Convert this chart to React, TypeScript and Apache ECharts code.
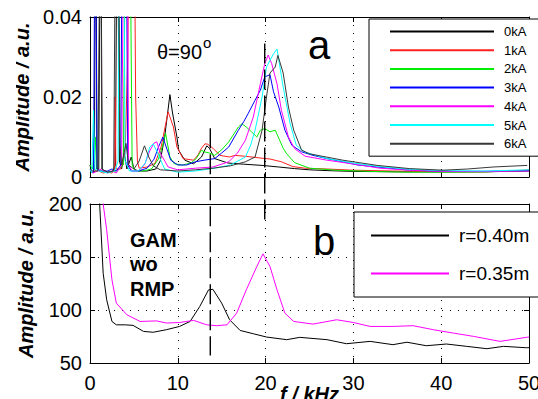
import React, { useEffect, useRef } from 'react';
import * as echarts from 'echarts';

// ---------- data ----------
const xTicks = [0, 10, 20, 30, 40, 50];
const topYTicks = [0, 0.02, 0.04];
const bottomYTicks = [50, 100, 150, 200];

const topNames = ['0kA', '1kA', '2kA', '3kA', '4kA', '5kA', '6kA'];
const bottomNames = ['r=0.40m', 'r=0.35m'];

const kA0: [number, number][] = [
  [0, 0.003], [0.2, 0.001], [0.5, 0.002], [0.65, 0.08], [0.8, 0.002], [1.0, 0.002], [1.2, 0.08], [1.4, 0.002],
  [1.8, 0.0012], [2.2, 0.0012], [2.6, 0.0015], [2.9, 0.003], [3.1, 0.08], [3.35, 0.004], [3.6, 0.002], [3.9, 0.006],
  [4.2, 0.002], [4.7, 0.005], [5.0, 0.002], [5.5, 0.0015], [6.5, 0.0015], [7.5, 0.002], [8.0, 0.004], [8.5, 0.010],
  [8.9, 0.017], [9.1, 0.0206], [9.4, 0.016], [9.9, 0.010], [10.1, 0.0067], [10.8, 0.0042], [11.8, 0.0033], [12.7, 0.005],
  [13.3, 0.0078], [13.6, 0.0072], [14.2, 0.0046], [15.7, 0.0035], [17.5, 0.0032], [19.6, 0.0029], [21.5, 0.0025],
  [23.3, 0.0021], [25, 0.0018], [27, 0.0016], [30, 0.0014], [35, 0.0013], [40, 0.0013], [45, 0.0013], [50, 0.0015],
];
const kA1: [number, number][] = [
  [0, 0.002], [0.3, 0.001], [0.6, 0.0015], [1.0, 0.0015], [1.5, 0.001], [2.0, 0.0012], [2.5, 0.001], [2.8, 0.002],
  [2.85, 0.02], [2.95, 0.002], [3.5, 0.002], [4.0, 0.006], [4.3, 0.03], [4.5, 0.08], [5.0, 0.08], [5.2, 0.02],
  [5.4, 0.004], [5.6, 0.0022], [6.5, 0.0025], [7.4, 0.0034], [8.1, 0.0075], [8.6, 0.013], [8.9, 0.0163], [9.5, 0.0125],
  [9.9, 0.0075], [10.6, 0.0046], [11.8, 0.0042], [12.3, 0.0055], [12.7, 0.0072], [13.1, 0.0083], [13.4, 0.0082],
  [14.0, 0.0072], [14.8, 0.0054], [15.9, 0.005], [16.5, 0.0054], [17.6, 0.0052], [19.6, 0.0047], [20.5, 0.0045],
  [21.8, 0.0038], [23.1, 0.0026], [24.5, 0.0022], [27, 0.002], [30, 0.0017], [34.5, 0.0015], [40, 0.0013],
  [45, 0.0013], [48, 0.0015], [50, 0.0018],
];
const kA2: [number, number][] = [
  [0, 0.003], [0.3, 0.002], [0.6, 0.010], [0.75, 0.002], [1.2, 0.0015], [2.0, 0.0012], [3.0, 0.0015], [3.8, 0.003],
  [4.1, 0.08], [4.5, 0.08], [4.8, 0.003], [5.2, 0.0015], [6.0, 0.0015], [7.0, 0.002], [7.8, 0.0045], [8.3, 0.008],
  [8.6, 0.011], [9.1, 0.005], [9.6, 0.0033], [10.5, 0.003], [11.5, 0.0035], [12.1, 0.0046], [12.7, 0.0067],
  [13.0, 0.0063], [13.6, 0.006], [14.2, 0.0054], [15.0, 0.0068], [15.8, 0.0088], [16.4, 0.0108], [16.9, 0.0125],
  [17.3, 0.0133], [17.8, 0.0125], [18.4, 0.0113], [19.0, 0.010], [19.4, 0.0117], [19.9, 0.0121], [20.5, 0.0113],
  [21.1, 0.0117], [21.6, 0.0092], [22.0, 0.0072], [22.4, 0.0058], [23.3, 0.0036], [25, 0.0022], [28, 0.0017],
  [32, 0.0014], [36, 0.0012], [40, 0.0012], [45, 0.0013], [50, 0.0016],
];
const kA3: [number, number][] = [
  [0, 0.002], [0.4, 0.001], [0.6, 0.08], [0.8, 0.002], [1.2, 0.0015], [2.0, 0.0015], [2.5, 0.002], [3.0, 0.0015],
  [3.5, 0.003], [3.7, 0.08], [4.1, 0.08], [4.3, 0.003], [4.7, 0.0015], [5.5, 0.0015], [6.5, 0.0022], [7.3, 0.0045],
  [7.8, 0.0075], [8.3, 0.010], [8.6, 0.008], [9.2, 0.0042], [10, 0.003], [11, 0.003], [12, 0.0038], [13, 0.0042],
  [14.2, 0.0046], [15.0, 0.006], [15.8, 0.0075], [16.9, 0.0117], [17.5, 0.0138], [18, 0.0158], [18.8, 0.0192],
  [19.4, 0.0217], [19.9, 0.025], [20.5, 0.0256], [20.9, 0.0213], [21.5, 0.0175], [22.2, 0.0117], [23, 0.0079],
  [24.1, 0.0063], [25.4, 0.0054], [27, 0.0046], [28.8, 0.0038], [30.5, 0.003], [32.7, 0.0025], [36, 0.0018],
  [40, 0.0014], [45, 0.0014], [50, 0.0016],
];
const kA4: [number, number][] = [
  [0, 0.002], [0.4, 0.001], [0.8, 0.0015], [1.3, 0.002], [2.0, 0.001], [2.5, 0.0015], [3.0, 0.001], [3.6, 0.003],
  [3.9, 0.08], [4.2, 0.08], [4.4, 0.003], [4.8, 0.0015], [5.5, 0.0015], [6.2, 0.003], [6.8, 0.0065], [7.3, 0.0085],
  [7.6, 0.0088], [8.0, 0.006], [8.9, 0.0025], [10, 0.0018], [12, 0.0022], [14, 0.0025], [15.8, 0.0038], [16.8, 0.006],
  [17.7, 0.0092], [18.6, 0.015], [19.4, 0.0233], [19.9, 0.0283], [20.3, 0.0305], [20.7, 0.0283], [21.3, 0.0233],
  [21.8, 0.0167], [22.6, 0.010], [23.3, 0.0071], [24.5, 0.0052], [27, 0.0042], [30.8, 0.003], [33, 0.0022],
  [36.4, 0.0017], [40, 0.0014], [45, 0.0014], [50, 0.0015],
];
const kA5: [number, number][] = [
  [0, 0.002], [0.2, 0.001], [0.4, 0.0167], [0.55, 0.002], [1.0, 0.0015], [2.0, 0.001], [2.8, 0.0015], [3.2, 0.004],
  [3.4, 0.08], [3.8, 0.08], [4.0, 0.004], [4.5, 0.0015], [5.5, 0.0015], [6.3, 0.0035], [6.8, 0.0075], [7.2, 0.0083],
  [7.7, 0.006], [8.5, 0.002], [10, 0.0012], [12, 0.0015], [14.2, 0.0022], [16, 0.003], [17.7, 0.005], [18.3, 0.008],
  [18.8, 0.0117], [19.6, 0.020], [20.1, 0.0275], [20.9, 0.0308], [21.3, 0.032], [22, 0.0225], [22.8, 0.0133],
  [23.5, 0.0079], [24.5, 0.0062], [27, 0.0046], [30, 0.0035], [33, 0.0026], [36, 0.002], [40, 0.0016], [45, 0.0015],
  [50, 0.0018],
];
const kA6: [number, number][] = [
  [0, 0.002], [0.3, 0.0015], [0.9, 0.0015], [1.2, 0.08], [1.35, 0.002], [2.0, 0.0012], [2.7, 0.0015], [2.95, 0.08],
  [3.25, 0.08], [3.4, 0.008], [3.6, 0.003], [4.1, 0.0084], [4.4, 0.003], [5.0, 0.002], [5.6, 0.004], [6.2, 0.0078],
  [6.7, 0.005], [7.2, 0.0028], [8, 0.0018], [10, 0.0015], [12, 0.0018], [14, 0.0022], [16, 0.0028], [17.7, 0.0038],
  [18.8, 0.005], [19.6, 0.0117], [20.1, 0.020], [20.5, 0.026], [21.1, 0.0275], [21.4, 0.0304], [22, 0.026],
  [22.6, 0.0175], [23.2, 0.0117], [24.1, 0.0067], [25, 0.0058], [28.8, 0.0042], [32.7, 0.0029], [36.4, 0.0021],
  [40.2, 0.0017], [43, 0.002], [45.9, 0.0025], [49.8, 0.0029],
];

const r040: [number, number][] = [
  [0.9, 260], [1.1, 200], [1.5, 134.7], [1.9, 109.6], [2.5, 89.2], [3.0, 86], [4.0, 86], [4.9, 85.5], [6.1, 79.8],
  [7.2, 79], [8.7, 81.4], [10.2, 84.5], [11.4, 89.2], [12.5, 103.3], [13.5, 119], [14.0, 119.5], [15.0, 106.5],
  [15.9, 90.8], [17.1, 80.7], [18.6, 77.6], [20.1, 74.5], [22.4, 72], [23.9, 74.2], [27, 72], [29.2, 68.2],
  [31.9, 70.4], [34.5, 67.3], [36.1, 69.6], [38.3, 66.3], [40.6, 67.9], [42.9, 65.7], [45.2, 63.5], [47.1, 65.7],
  [49.7, 64.4], [50, 64.5],
];
const r035: [number, number][] = [
  [1.3, 260], [1.5, 200], [1.9, 175.6], [2.5, 128.5], [3.0, 106.5], [4.2, 95.5], [5.7, 89.2], [7.6, 89.7],
  [8.7, 87.7], [10.2, 88.2], [11.8, 90.2], [13.3, 86], [14.4, 85.2], [15.6, 86], [16.7, 97], [17.8, 119], [19.0, 141],
  [19.7, 153], [20.5, 141], [21.3, 119], [22.2, 97], [23.2, 89.2], [25.4, 86.7], [28.1, 90.8], [30, 88.2],
  [31.9, 84.5], [34.5, 84.5], [36.8, 85.2], [39.1, 81.4], [41.4, 78.2], [43.7, 75.1], [46.7, 70.4], [49.7, 74.2],
  [50, 74.5],
];

// annotation (dashed) lines: frequency, start value in panel a, end value in panel b
const dashedFreqs = [13.7, 19.9];
const dashedTopAmp = [0.0122, 0.0334];
const dashedBottomAmp = [57, 180];

const topData = [kA0, kA1, kA2, kA3, kA4, kA5, kA6];
const bottomData = [r040, r035];

// ---------- styles ----------
const topColors = ['#000000', '#ff2020', '#00ee00', '#0000ff', '#ff00ff', '#00ffff', '#383838'];
const bottomColors = ['#000000', '#ff00ff'];
const FONT = 'Liberation Sans, Arial, Helvetica, sans-serif';

function axisPair(gridIndex: number, showLabels: boolean, min: number, max: number, interval: number, isX: boolean) {
  const base = {
    gridIndex,
    type: 'value',
    min,
    max,
    interval,
    axisLine: { show: true, onZero: false, lineStyle: { color: '#000', width: 1 } },
    axisTick: { show: true, inside: true, length: 5, lineStyle: { color: '#000', width: 1 } },
  };
  const main: any = {
    ...base,
    position: isX ? 'bottom' : 'left',
    axisLabel: { show: showLabels, color: '#000', fontSize: 20, fontFamily: FONT, margin: isX ? 10 : 8 },
    splitLine: { show: true, lineStyle: { color: '#000', width: 1, type: [1, 7] } },
  };
  const mirror: any = {
    ...base,
    position: isX ? 'top' : 'right',
    axisLabel: { show: false },
    splitLine: { show: false },
  };
  return [main, mirror];
}

export default function App() {
  const ref = useRef<HTMLDivElement>(null);
  useEffect(() => {
    document.body.style.margin = '0';
    if (!ref.current) return;
    const chart = echarts.init(ref.current, undefined, { renderer: 'svg' });

    const [xa0, xa1] = axisPair(0, false, xTicks[0], xTicks[xTicks.length - 1], xTicks[1] - xTicks[0], true);
    const [xb0, xb1] = axisPair(1, true, xTicks[0], xTicks[xTicks.length - 1], xTicks[1] - xTicks[0], true);
    const [ya0, ya1] = axisPair(0, true, topYTicks[0], topYTicks[topYTicks.length - 1], topYTicks[1] - topYTicks[0], false);
    const [yb0, yb1] = axisPair(1, true, bottomYTicks[0], bottomYTicks[bottomYTicks.length - 1], bottomYTicks[1] - bottomYTicks[0], false);

    const nameStyle = { fontSize: 20, fontWeight: 'bold', fontStyle: 'italic', color: '#000', fontFamily: FONT };
    xb0.name = 'f / kHz';
    xb0.nameLocation = 'middle';
    xb0.nameGap = 21;
    xb0.nameMoveOverlap = false;
    xb0.nameTextStyle = nameStyle;
    ya0.name = 'Amplitude / a.u.';
    ya0.nameLocation = 'middle';
    ya0.nameGap = 58;
    ya0.nameMoveOverlap = false;
    ya0.nameTextStyle = nameStyle;
    yb0.name = 'Amplitude / a.u.';
    yb0.nameLocation = 'middle';
    yb0.nameGap = 54;
    yb0.nameMoveOverlap = false;
    yb0.nameTextStyle = nameStyle;

    const series: any[] = [];
    topData.forEach((d, i) => {
      series.push({
        name: topNames[i], type: 'line', data: d, xAxisIndex: 0, yAxisIndex: 0, symbol: 'none',
        lineStyle: { color: topColors[i], width: 1 }, itemStyle: { color: topColors[i] }, clip: true,
      });
    });
    bottomData.forEach((d, i) => {
      series.push({
        name: bottomNames[i], type: 'line', data: d, xAxisIndex: 2, yAxisIndex: 2, symbol: 'none',
        lineStyle: { color: bottomColors[i], width: 1 }, itemStyle: { color: bottomColors[i] }, clip: true,
      });
    });

    const option: any = {
      animation: false,
      backgroundColor: '#fff',
      textStyle: { fontFamily: FONT },
      grid: [
        { left: 90, top: 17, width: 439, height: 160, outerBoundsMode: 'none', containLabel: false },
        { left: 90, top: 204, width: 439, height: 159, outerBoundsMode: 'none', containLabel: false },
      ],
      xAxis: [xa0, xa1, xb0, xb1],
      yAxis: [ya0, ya1, yb0, yb1],
      legend: [
        {
          data: topNames, orient: 'vertical', left: 369, top: 19, itemWidth: 104, itemHeight: 14, itemGap: 5.7,
          padding: [6, 50, 6, 20], borderColor: '#000', borderWidth: 1, backgroundColor: '#fff', selectedMode: false,
          itemStyle: { opacity: 0 },
          textStyle: { fontSize: 13, color: '#000', fontFamily: FONT, padding: [0, 0, 0, 5] },
        },
        {
          data: bottomNames, orient: 'vertical', left: 354, top: 212, itemWidth: 78, itemHeight: 14, itemGap: 19,
          padding: [14, 60, 14, 16], borderColor: '#000', borderWidth: 1, backgroundColor: '#fff', selectedMode: false,
          itemStyle: { opacity: 0 },
          textStyle: { fontSize: 19, color: '#000', fontFamily: FONT, padding: [0, 0, 0, 5] },
        },
      ],
      series,
    };
    chart.setOption(option);

    const lines = dashedFreqs.map((f, i) => {
      const a = chart.convertToPixel({ xAxisIndex: 0, yAxisIndex: 0 } as any, [f, dashedTopAmp[i]]) as number[];
      const b = chart.convertToPixel({ xAxisIndex: 2, yAxisIndex: 2 } as any, [f, dashedBottomAmp[i]]) as number[];
      return {
        type: 'line', z: 5,
        shape: { x1: a[0], y1: a[1], x2: b[0], y2: b[1] },
        style: { stroke: '#000', lineWidth: 1.4, lineDash: [20, 6] },
      };
    });

    const txt = (text: string, x: number, y: number, size: number, bold = false) => ({
      type: 'text', x, y, z: 6,
      style: {
        text, fill: '#000', fontSize: size, fontFamily: FONT, fontWeight: bold ? 'bold' : 'normal',
        verticalAlign: 'middle', align: 'left',
      },
    });

    chart.setOption({
      graphic: [
        ...lines,
        txt('θ=90', 157, 52, 20),
        txt('o', 203, 42, 15),
        txt('a', 308, 45, 40),
        txt('b', 313, 241, 40),
        txt('GAM', 130, 240, 20, true),
        txt('wo', 130, 264, 20, true),
        txt('RMP', 130, 289, 20, true),
        { type: 'rect', z: 50, shape: { x: 0, y: 0, width: 16, height: 186 }, style: { fill: '#fff' } },
      ],
    });

    return () => chart.dispose();
  }, []);
  return <div ref={ref} style={{ width: 538, height: 399 }} />;
}
